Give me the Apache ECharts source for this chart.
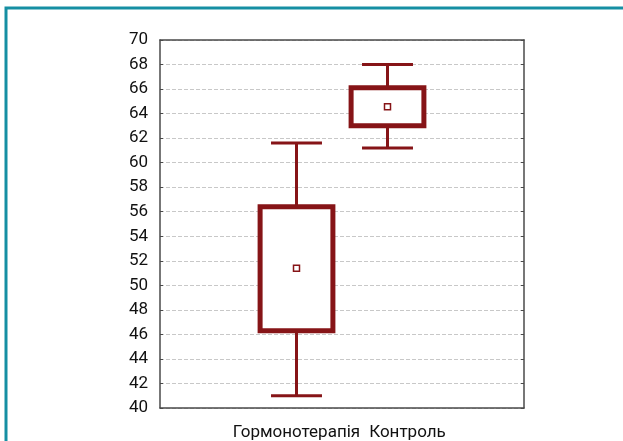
<!DOCTYPE html>
<html>
<head>
<meta charset="utf-8">
<script src="https://cdn.jsdelivr.net/npm/echarts@6/dist/echarts.min.js"></script>
<style>
  html, body { margin: 0; padding: 0; background: #fff; }
  #chart { width: 623px; height: 441px; }
</style>
</head>
<body>
<div id="chart"></div>
<script>
// категорії (крайні порожні — як у вихідному графіку)
const categories = ['', 'Гормонотерапія', 'Контроль', ''];
const groups = ['Гормонотерапія', 'Контроль'];
// середнє, межі бокса та вусів
const means = [51.4, 64.55];
const boxLow = [46.3, 63.0];
const boxHigh = [56.4, 66.1];
const whiskerLow = [41.0, 61.2];
const whiskerHigh = [61.6, 68.0];
// мітки осі Y
const yMin = 40;
const yMax = 70;
const yStep = 2;

const dark = '#861417';
const axisColor = '#4a4a4a';

const boxData = groups.map((g, i) => [g, whiskerLow[i], boxLow[i], boxHigh[i], whiskerHigh[i]]);
const meanData = groups.map((g, i) => [g, means[i]]);

function renderBox(params, api) {
  const x = api.value(0);
  const wLo = api.coord([x, api.value(1)]);
  const bLo = api.coord([x, api.value(2)]);
  const bHi = api.coord([x, api.value(3)]);
  const wHi = api.coord([x, api.value(4)]);
  const band = api.size([1, 0])[0];
  const halfBox = band * 0.4;
  const halfCap = band * 0.28;
  const cx = wLo[0];
  const whisker = { stroke: dark, lineWidth: 3 };
  return {
    type: 'group',
    children: [
      { type: 'line', shape: { x1: cx, y1: wLo[1], x2: cx, y2: bLo[1] }, style: whisker },
      { type: 'line', shape: { x1: cx, y1: bHi[1], x2: cx, y2: wHi[1] }, style: whisker },
      { type: 'line', shape: { x1: cx - halfCap, y1: wLo[1], x2: cx + halfCap, y2: wLo[1] }, style: whisker },
      { type: 'line', shape: { x1: cx - halfCap, y1: wHi[1], x2: cx + halfCap, y2: wHi[1] }, style: whisker },
      {
        type: 'rect',
        shape: { x: cx - halfBox, y: bHi[1], width: halfBox * 2, height: bLo[1] - bHi[1] },
        style: { fill: '#fff', stroke: dark, lineWidth: 5 }
      }
    ]
  };
}

const chart = echarts.init(document.getElementById('chart'));
const option = {
  backgroundColor: '#fff',
  animation: false,
  textStyle: { fontFamily: 'Roboto' },
  graphic: [
    {
      type: 'polyline',
      shape: { points: [[6, 441], [6, 8], [623, 8]] },
      style: { stroke: '#168fa3', lineWidth: 3, fill: null }
    }
  ],
  grid: { left: 160, right: 99, top: 40, bottom: 32 },
  xAxis: [
    {
      type: 'category',
      data: categories.map(c => c === 'Контроль'
        ? { value: c, textStyle: { padding: [0, 0, 0, 40] } }
        : c),
      axisLine: { lineStyle: { color: axisColor, width: 1.5 } },
      axisTick: { inside: true, length: 4, alignWithLabel: true, interval: 0, lineStyle: { color: axisColor } },
      axisLabel: { interval: 0, color: '#111', fontSize: 17, margin: 16 },
      splitLine: { show: false }
    },
    {
      type: 'category',
      position: 'top',
      data: categories,
      axisLine: { lineStyle: { color: axisColor, width: 1.5 } },
      axisTick: { inside: true, length: 4, alignWithLabel: true, interval: 0, lineStyle: { color: axisColor } },
      axisLabel: { show: false },
      splitLine: { show: false }
    }
  ],
  yAxis: [
    {
      type: 'value',
      min: yMin,
      max: yMax,
      interval: yStep,
      axisLine: { show: true, lineStyle: { color: axisColor, width: 1.5 } },
      axisTick: { show: true, inside: true, length: 3, lineStyle: { color: axisColor } },
      axisLabel: { color: '#111', fontSize: 17, margin: 12 },
      splitLine: { show: true, lineStyle: { color: '#c8c8c8', type: [4, 2], width: 1 } }
    },
    {
      type: 'value',
      position: 'right',
      min: yMin,
      max: yMax,
      interval: yStep,
      axisLine: { show: true, lineStyle: { color: axisColor, width: 1.5 } },
      axisTick: { show: true, inside: true, length: 3, lineStyle: { color: axisColor } },
      axisLabel: { show: false },
      splitLine: { show: false }
    }
  ],
  series: [
    {
      type: 'custom',
      renderItem: renderBox,
      data: boxData,
      encode: { x: 0, y: [1, 2, 3, 4] },
      z: 3
    },
    {
      type: 'scatter',
      data: meanData,
      symbol: 'rect',
      symbolSize: 6,
      itemStyle: { color: '#fff', borderColor: dark, borderWidth: 1.5, opacity: 1 },
      z: 5
    }
  ]
};
chart.setOption(option);
</script>
</body>
</html>
